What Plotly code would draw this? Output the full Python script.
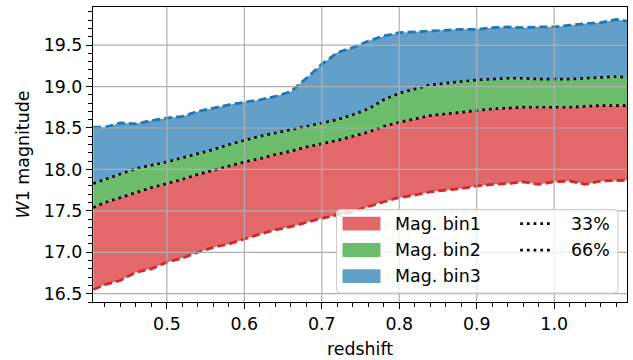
import plotly.graph_objects as go

# W1 magnitude percentiles of the sample as a function of redshift
redshift = [0.405, 0.42, 0.44, 0.46, 0.48, 0.50, 0.52, 0.54, 0.56, 0.58,
            0.60, 0.62, 0.64, 0.66, 0.68, 0.70, 0.72, 0.74, 0.76, 0.78,
            0.80, 0.82, 0.84, 0.86, 0.88, 0.90, 0.92, 0.94, 0.96, 0.98,
            1.00, 1.02, 1.04, 1.06, 1.08, 1.094]

mag_lower = [16.55, 16.61, 16.66, 16.76, 16.80, 16.88, 16.93, 17.00, 17.06, 17.10,
             17.16, 17.22, 17.27, 17.31, 17.36, 17.41, 17.45, 17.49, 17.55, 17.61,
             17.66, 17.69, 17.73, 17.75, 17.77, 17.80, 17.82, 17.83, 17.85, 17.82,
             17.85, 17.86, 17.82, 17.86, 17.87, 17.87]

mag_p33 = [17.54, 17.60, 17.66, 17.72, 17.78, 17.83, 17.88, 17.94, 17.99, 18.04,
           18.09, 18.13, 18.18, 18.22, 18.27, 18.31, 18.35, 18.40, 18.45, 18.52,
           18.57, 18.61, 18.65, 18.67, 18.69, 18.71, 18.73, 18.74, 18.75, 18.75,
           18.75, 18.75, 18.76, 18.77, 18.77, 18.77]

mag_p66 = [17.83, 17.88, 17.95, 18.01, 18.05, 18.09, 18.14, 18.19, 18.24, 18.30,
           18.35, 18.40, 18.44, 18.48, 18.52, 18.56, 18.60, 18.66, 18.73, 18.84,
           18.92, 18.97, 19.02, 19.04, 19.06, 19.08, 19.09, 19.10, 19.10, 19.09,
           19.09, 19.09, 19.10, 19.11, 19.12, 19.11]

mag_upper = [18.51, 18.51, 18.56, 18.55, 18.59, 18.62, 18.64, 18.70, 18.74, 18.78,
             18.81, 18.84, 18.88, 18.94, 19.10, 19.27, 19.41, 19.47, 19.55, 19.61,
             19.65, 19.66, 19.67, 19.68, 19.69, 19.69, 19.71, 19.72, 19.71, 19.72,
             19.72, 19.74, 19.76, 19.77, 19.81, 19.79]

bin_labels = ["Mag. bin1", "Mag. bin2", "Mag. bin3"]
pct_labels = ["33%", "66%"]

x_ticks = [0.5, 0.6, 0.7, 0.8, 0.9, 1.0]
y_ticks = [16.5, 17.0, 17.5, 18.0, 18.5, 19.0, 19.5]

X_RANGE = [0.4046, 1.094]
Y_RANGE = [16.40, 19.96]

RED = "#d62728"
GREEN = "#2ca02c"
BLUE = "#1f77b4"
GRID = "#b0b0b0"
FONT = "DejaVu Sans"
FS = 17.4

W, H = 633, 360
ML, MR, MT, MB = 93, 5, 7, 55


def faded(hex_color, alpha=0.7):
    r, g, b = (int(hex_color[i:i + 2], 16) for i in (1, 3, 5))
    mix = lambda c: round(alpha * c + (1 - alpha) * 255)
    return f"rgb({mix(r)},{mix(g)},{mix(b)})"


def fx(px):
    return (px - ML) / (W - ML - MR)


def fy(py):
    return (H - MB - py) / (H - MT - MB)


fig = go.Figure()

# stacked bands between successive percentile curves
bounds = [mag_lower, mag_p33, mag_p66, mag_upper]
band_colors = [RED, GREEN, BLUE]
fig.add_trace(go.Scatter(x=redshift, y=bounds[0], mode="lines",
                         line=dict(width=0, color=RED), showlegend=False,
                         hoverinfo="skip"))
for k, col in enumerate(band_colors):
    fig.add_trace(go.Scatter(x=redshift, y=bounds[k + 1], mode="lines",
                             fill="tonexty", fillcolor=faded(col),
                             line=dict(width=0, color=col), name=bin_labels[k],
                             showlegend=False))

# edges of the distribution
fig.add_trace(go.Scatter(x=redshift, y=mag_lower, mode="lines",
                         line=dict(color=RED, width=2.8, dash="8px,4px"),
                         showlegend=False))
fig.add_trace(go.Scatter(x=redshift, y=mag_upper, mode="lines",
                         line=dict(color=BLUE, width=2.8, dash="8px,4px"),
                         showlegend=False))
# percentile curves
for yv, lab in zip([mag_p33, mag_p66], pct_labels):
    fig.add_trace(go.Scatter(x=redshift, y=yv, mode="lines", name=lab,
                             line=dict(color="black", width=2.7, dash="2.7px,4px"),
                             showlegend=False))

shapes = []
# grid drawn over the filled bands
for xv in x_ticks:
    shapes.append(dict(type="line", xref="x", yref="paper", x0=xv, x1=xv,
                       y0=0, y1=1, line=dict(color=GRID, width=1.2), layer="above"))
for yv in y_ticks:
    shapes.append(dict(type="line", xref="paper", yref="y", x0=0, x1=1,
                       y0=yv, y1=yv, line=dict(color=GRID, width=1.2), layer="above"))

# legend box (rounded frame)
lx0, lx1, ly0, ly1, rad = 337, 619, 211.5, 296, 4
path = (f"M{fx(lx0 + rad)},{fy(ly0)} L{fx(lx1 - rad)},{fy(ly0)} "
        f"Q{fx(lx1)},{fy(ly0)} {fx(lx1)},{fy(ly0 + rad)} "
        f"L{fx(lx1)},{fy(ly1 - rad)} Q{fx(lx1)},{fy(ly1)} {fx(lx1 - rad)},{fy(ly1)} "
        f"L{fx(lx0 + rad)},{fy(ly1)} Q{fx(lx0)},{fy(ly1)} {fx(lx0)},{fy(ly1 - rad)} "
        f"L{fx(lx0)},{fy(ly0 + rad)} Q{fx(lx0)},{fy(ly0)} {fx(lx0 + rad)},{fy(ly0)} Z")
shapes.append(dict(type="path", xref="paper", yref="paper", path=path,
                   fillcolor="rgba(255,255,255,0.8)",
                   line=dict(color="#cccccc", width=1), layer="above"))

row_y = [225.8, 252.5, 278.8]
annotations = []
for k, col in enumerate(band_colors):
    cy = row_y[k]
    shapes.append(dict(type="rect", xref="paper", yref="paper",
                       x0=fx(343), x1=fx(381), y0=fy(cy + 7), y1=fy(cy - 7),
                       fillcolor=faded(col), line=dict(width=0), layer="above"))
    annotations.append(dict(xref="paper", yref="paper", x=fx(394), y=fy(cy),
                            text=bin_labels[k], showarrow=False, xanchor="left",
                            yanchor="middle", font=dict(family=FONT, size=FS, color="black")))
for k, lab in enumerate(pct_labels):
    cy = row_y[k]
    shapes.append(dict(type="line", xref="paper", yref="paper",
                       x0=fx(521), x1=fx(554), y0=fy(cy), y1=fy(cy),
                       line=dict(color="black", width=2.7, dash="2.7px,4px"),
                       layer="above"))
    annotations.append(dict(xref="paper", yref="paper", x=fx(570), y=fy(cy),
                            text=lab, showarrow=False, xanchor="left",
                            yanchor="middle", font=dict(family=FONT, size=FS, color="black")))

axis_common = dict(showgrid=False, zeroline=False, showline=True, mirror=True,
                   linecolor="black", linewidth=1.2, ticks="outside", ticklen=6,
                   tickwidth=1.1, tickcolor="black", tickformat=".1f",
                   tickfont=dict(family=FONT, size=FS, color="black"))

fig.update_layout(
    width=W, height=H,
    margin=dict(l=ML, r=MR, t=MT, b=MB),
    paper_bgcolor="white", plot_bgcolor="white",
    font=dict(family=FONT, size=FS, color="black"),
    showlegend=False,
    shapes=shapes,
    annotations=annotations,
    xaxis=dict(range=X_RANGE, tickvals=x_ticks,
               minor=dict(dtick=0.02, tick0=0, ticks="outside", ticklen=3.5,
                          tickwidth=1, tickcolor="black", showgrid=False),
               title=dict(text="redshift", standoff=9,
                          font=dict(family=FONT, size=FS, color="black")),
               **axis_common),
    yaxis=dict(range=Y_RANGE, tickvals=y_ticks,
               minor=dict(dtick=0.1, tick0=0, ticks="outside", ticklen=3.5,
                          tickwidth=1, tickcolor="black", showgrid=False),
               title=dict(text="<i>W</i>1 magnitude", standoff=9,
                          font=dict(family=FONT, size=FS, color="black")),
               **axis_common),
)

fig.write_html("out.html")
